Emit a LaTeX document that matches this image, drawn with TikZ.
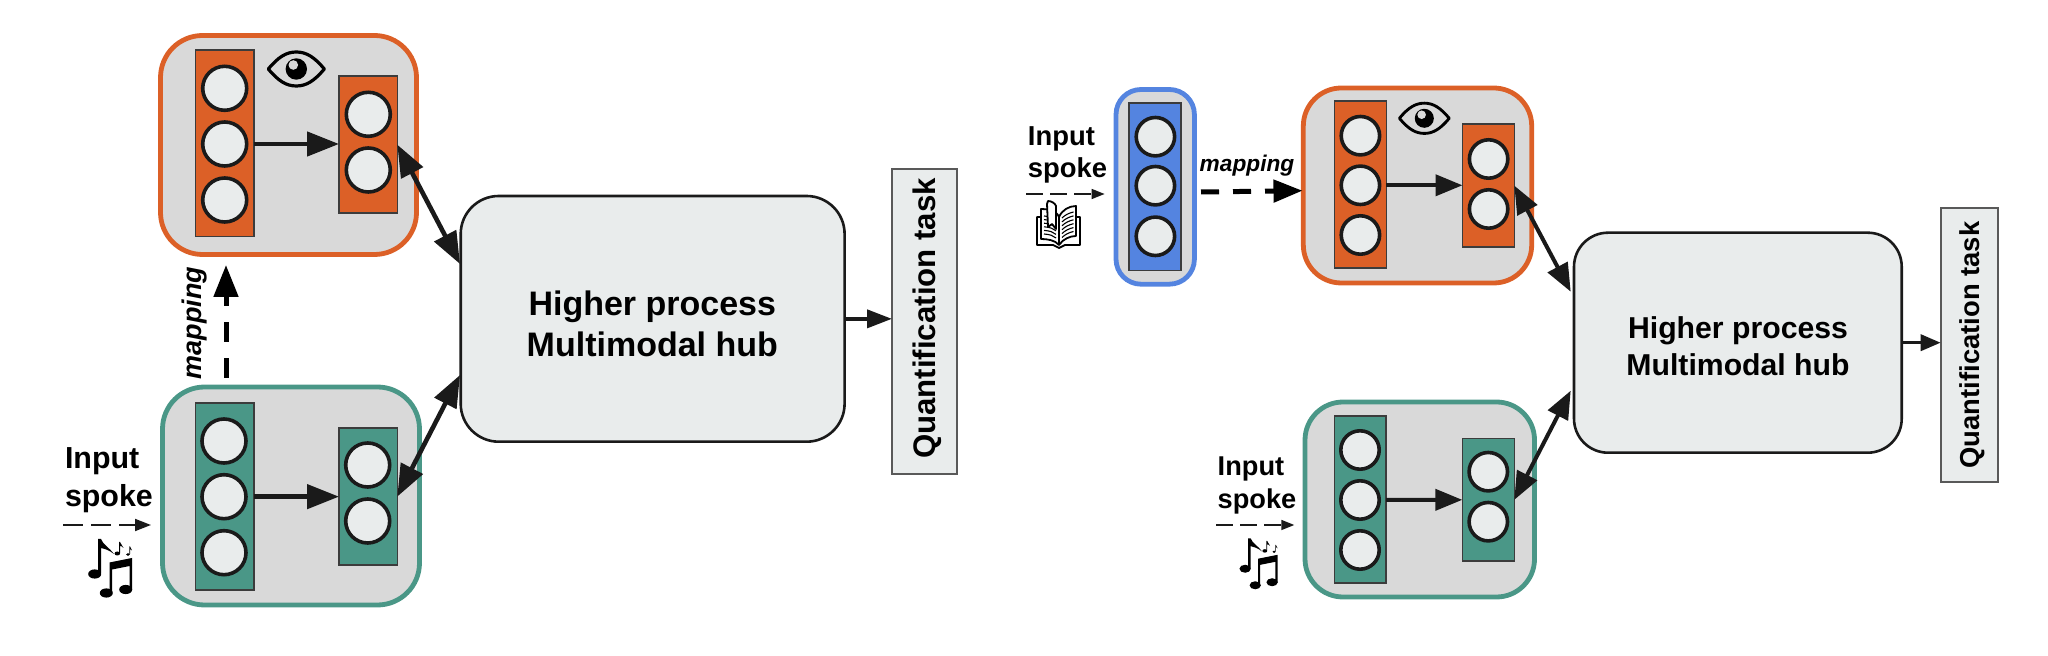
\documentclass[tikz,border=0pt]{standalone}
\usepackage{fontspec}
\setmainfont{Liberation Sans}
\usetikzlibrary{arrows.meta}
\definecolor{cOrange}{HTML}{DC6027}
\definecolor{cTeal}{HTML}{4A9787}
\definecolor{cBlue}{HTML}{5484E0}
\definecolor{cGray}{HTML}{D9D9D9}
\definecolor{cLight}{HTML}{E9ECEC}
\definecolor{cInk}{HTML}{1A1A1A}
\tikzset{
  every node/.style={inner sep=0pt,outer sep=0pt},
  modbox/.style={draw,fill=cGray,line width=2.4pt,rounded corners=21pt},
  layerbox/.style={draw=cInk!85,fill=#1,line width=0.8pt},
  neuron/.style={circle,draw=cInk,fill=cLight,line width=1.8pt},
  hubbox/.style={draw=cInk,fill=cLight,line width=1.3pt,rounded corners=19pt},
  taskbox/.style={draw=black!65,fill=cLight,line width=0.9pt},
  conn/.style={draw=cInk,line width=2.3pt,-{Triangle[length=16pt,width=12pt]}},
  conns/.style={draw=cInk,line width=2pt,-{Triangle[length=13.5pt,width=10.5pt]}},
  bidir/.style={draw=cInk,line width=2.3pt,{Triangle[length=16pt,width=12pt]}-{Triangle[length=16pt,width=12pt]}},
  bidirs/.style={draw=cInk,line width=2pt,{Triangle[length=14pt,width=11pt]}-{Triangle[length=14pt,width=11pt]}},
  mapline/.style={draw=black,line width=2.5pt,dash pattern=on 10pt off 8pt},
  inputline/.style={draw=cInk,line width=0.9pt,dash pattern=on 10pt off 4pt,-{Triangle[length=8pt,width=6pt]}},
  inputlines/.style={draw=cInk,line width=0.8pt,dash pattern=on 8.5pt off 3.5pt,-{Triangle[length=6.5pt,width=5pt]}},
  lbl/.style={align=center,font=\fontsize{#1}{#1}\bfseries\selectfont},
}
\newcommand\pxnode[6][]{%
  \pgfmathsetmacro\pxcx{(#3+#5)/2}\pgfmathsetmacro\pxcy{(#4+#6)/2}%
  \pgfmathsetmacro\pxw{(#5-#3)*0.5}\pgfmathsetmacro\pxh{(#6-#4)*0.5}%
  \node[#1,minimum width=\pxw pt,minimum height=\pxh pt] (#2) at (\pxcx,\pxcy) {};}
% x, y (centre), scale
\newcommand\eyeicon[3]{\begin{scope}[shift={(#1,#2)},scale=#3]
  \draw[black,line width=#3*1.6pt,line join=round] (-28,0) .. controls (-18,-12) and (-10,-17) .. (0,-17) .. controls (10,-17) and (18,-12) .. (28,0) .. controls (18,12) and (10,17) .. (0,17) .. controls (-10,17) and (-18,12) .. (-28,0) -- cycle;
  \fill[black] (0,0) circle[radius=10.7];
  \fill[cGray] (-3,-4) circle[radius=4.8];
\end{scope}}
% x, y (top left), scale
\newcommand\musicicon[3]{\begin{scope}[shift={(#1,#2)},scale=#3]
  \fill[black] (6.7,35) ellipse[x radius=6.5,y radius=4.6];
  \fill[black] (18.3,54) ellipse[x radius=6.5,y radius=4.6];
  \fill[black] (37.7,50.5) ellipse[x radius=6.5,y radius=4.6];
  \fill[black] (10.2,34) -- (10.2,0) -- (13,0) .. controls (15,6) and (22,9) .. (26,15) .. controls (21,11) and (17,10) .. (13,9) -- (13,34) -- cycle;
  \fill[black] (21.5,53) -- (21.5,23.5) -- (44,19) -- (44,51) -- (41.5,51) -- (41.5,27) -- (24,30.5) -- (24,53) -- cycle;
  \fill[black] (29.3,14.5) ellipse[x radius=2.8,y radius=2];
  \fill[black] (31.2,14) -- (31.2,3) -- (32,3) .. controls (32.5,6) and (35,6) .. (35.5,9) .. controls (34.5,7.5) and (33,7) .. (32,7) -- (32,14) -- cycle;
  \fill[black] (40,15.5) ellipse[x radius=1.9,y radius=1.4];
  \fill[black] (41.3,15) -- (41.3,7.5) -- (42,7.5) .. controls (42.3,9) and (43.7,9.5) .. (44,11.5) .. controls (43.5,10.5) and (42.7,10) .. (42,10) -- (42,15) -- cycle;
\end{scope}}
% x, y (top left)
\newcommand\bookicon[2]{\begin{scope}[shift={(#1,#2)},line join=round]
  \draw[black,line width=0.9pt,fill=white] (5,19) -- (5,47) -- (21,47) -- (27,50) -- (33,47) -- (48,47) -- (48,19) -- cycle;
  \draw[black,line width=0.9pt,fill=white] (27,47) .. controls (23,42) and (15,41) .. (9,41) -- (9,11) .. controls (16,11) and (24,12) .. (27,19) .. controls (30,12) and (37,8) .. (44,8) -- (44,38) .. controls (38,38) and (31,41) .. (27,47) -- cycle;
  \draw[black,line width=0.9pt] (27,19) -- (27,47);
  \foreach \k in {0,...,5}{
    \draw[black,line width=0.55pt] (30,{20+\k*3.9}) .. controls (33,{17+\k*3.9}) and (37,{15+\k*3.9}) .. (41.5,{14+\k*3.9});
    \draw[black,line width=0.55pt] (24,{22+\k*3.6}) .. controls (21,{19.5+\k*3.6}) and (18,{18.5+\k*3.6}) .. (12,{18+\k*3.6});
  }
  \draw[black,line width=0.9pt,fill=white] (15,6) -- (16,3) .. controls (19,3) and (23,5) .. (24,8) -- (24,31) -- (20,26) -- (16,29) -- cycle;
\end{scope}}
\newcommand\neuronnode[4]{\node[neuron,minimum size=#4pt] (#1) at (#2,#3) {};}
\begin{document}
\begin{tikzpicture}[x=0.5pt,y=-0.5pt]
\useasboundingbox (0,0) rectangle (2048,656);
%% ---------- LEFT PANEL ----------
\pxnode[modbox,draw=cOrange]{vis}{160.5}{35.5}{416.5}{254.5}
\pxnode[modbox,draw=cTeal]{aud}{162.5}{387}{419.5}{605}
\pxnode[layerbox=cOrange]{visL}{195.5}{50}{253.7}{236.7}
\pxnode[layerbox=cOrange]{visR}{339}{76}{397.3}{213.3}
\neuronnode{visLa}{224.7}{88.3}{22}
\neuronnode{visLb}{224.7}{144}{22}
\neuronnode{visLc}{224.7}{200}{22}
\neuronnode{visRa}{368.3}{114.3}{22}
\neuronnode{visRb}{368.3}{170}{22}
\eyeicon{296.3}{69}{1}
\pxnode[layerbox=cTeal]{audL}{195.5}{403.3}{253.7}{590}
\pxnode[layerbox=cTeal]{audR}{339}{428}{397.3}{565.3}
\neuronnode{audLa}{224}{441}{22}
\neuronnode{audLb}{224}{496.7}{22}
\neuronnode{audLc}{224}{552.7}{22}
\neuronnode{audRa}{367.7}{465}{22}
\neuronnode{audRb}{367.7}{521}{22}
\pxnode[hubbox]{hub}{460.7}{196}{844.6}{441.7}
\pxnode[taskbox]{task}{892}{168.7}{957}{473.7}
\node[align=center,anchor=base,font=\fontsize{17pt}{20.5pt}\bfseries\selectfont] (hubtxt) at (652.3,356.5) {Higher process\\Multimodal hub};
\node[lbl=15.6pt,rotate=90] (tasktxt) at (927,318.5) {Quantification task};
\node[anchor=center,rotate=90,font=\fontsize{13.5pt}{13.5pt}\bfseries\itshape\selectfont] (maptxt) at (195,323) {mapping};
\node[align=left,anchor=base west,font=\fontsize{15.2pt}{19pt}\bfseries\selectfont] (inA) at (65,506.7) {Input\\spoke};
\coordinate (hubIn1) at (460,264);
\coordinate (hubIn2) at (460,375);
\coordinate (mapStart) at (226,378);
\coordinate (mapEnd) at (226,265);
\coordinate (inAs) at (63,525);
\coordinate (inAe) at (151,525);
\draw[conn] (visL.east |- visLb) -- (visR.west |- visLb);
\draw[conn] (audL.east) -- (audR.west);
\draw[bidir] (visR.east) -- (hubIn1);
\draw[bidir] (audR.east) -- (hubIn2);
\draw[draw=cInk,line width=1.9pt,-{Triangle[length=12.5pt,width=9pt]}] (hub.east) -- (hub.east -| task.west);
\draw[mapline,-{Triangle[length=16pt,width=12pt]}] (mapStart) -- (mapEnd);
\draw[inputline] (inAs) -- (inAe);
\musicicon{88}{539}{1}
%% ---------- RIGHT PANEL ----------
\pxnode[modbox,draw=cBlue,rounded corners=12.5pt]{txt}{1116}{89.5}{1194.4}{284.2}
\pxnode[layerbox=cBlue]{txtL}{1128.9}{103.3}{1181}{270.7}
\neuronnode{txtLa}{1155.4}{136.7}{19.2}
\neuronnode{txtLb}{1155.4}{185.7}{19.2}
\neuronnode{txtLc}{1155.4}{236.3}{19.2}
\pxnode[modbox,draw=cOrange,rounded corners=19pt]{visB}{1303.3}{88}{1531.7}{283}
\pxnode[layerbox=cOrange]{visBL}{1334.3}{101}{1386.4}{268}
\pxnode[layerbox=cOrange]{visBR}{1462.5}{124.3}{1514.3}{247}
\neuronnode{visBLa}{1360.4}{135.7}{19.2}
\neuronnode{visBLb}{1360.4}{185.3}{19.2}
\neuronnode{visBLc}{1360.4}{235}{19.2}
\neuronnode{visBRa}{1488.6}{159}{19.2}
\neuronnode{visBRb}{1488.6}{209}{19.2}
\eyeicon{1424.3}{118.3}{0.89}
\pxnode[modbox,draw=cTeal,rounded corners=19pt]{audB}{1305}{402}{1534.5}{597}
\pxnode[layerbox=cTeal]{audBL}{1334.3}{416.3}{1386}{583.3}
\pxnode[layerbox=cTeal]{audBR}{1462.3}{438.7}{1514.3}{561}
\neuronnode{audBLa}{1360}{450}{19.2}
\neuronnode{audBLb}{1360}{500}{19.2}
\neuronnode{audBLc}{1360}{550}{19.2}
\neuronnode{audBRa}{1488.3}{471.7}{19.2}
\neuronnode{audBRb}{1488.3}{521.7}{19.2}
\pxnode[hubbox,rounded corners=17pt]{hubB}{1574}{232.7}{1901.7}{452.7}
\pxnode[taskbox]{taskB}{1940.7}{208.3}{1998.3}{481.7}
\node[align=center,anchor=base,font=\fontsize{15.1pt}{18.5pt}\bfseries\selectfont] (hubBtxt) at (1738,375.3) {Higher process\\Multimodal hub};
\node[lbl=13.7pt,rotate=90] (taskBtxt) at (1972,345) {Quantification task};
\node[anchor=base,font=\fontsize{11.35pt}{11.35pt}\bfseries\itshape\selectfont] (mapBtxt) at (1247,171.7) {mapping};
\node[align=left,anchor=base west,font=\fontsize{13.7pt}{16pt}\bfseries\selectfont] (inB) at (1027.9,177.3) {Input\\spoke};
\node[align=left,anchor=base west,font=\fontsize{13.6pt}{16.5pt}\bfseries\selectfont] (inC) at (1217.7,509) {Input\\spoke};
\coordinate (hubBIn1) at (1570.7,291.7);
\coordinate (hubBIn2) at (1570.7,390.7);
\coordinate (mapBs) at (1201,192);
\coordinate (mapBe) at (1302.5,190.7);
\coordinate (inBs) at (1026,194);
\coordinate (inBe) at (1104.6,194);
\coordinate (inCs) at (1216,525);
\coordinate (inCe) at (1294.3,525);
\draw[conns] (visBL.east |- visBLb) -- (visBR.west |- visBLb);
\draw[conns] (audBL.east) -- (audBR.west);
\draw[bidirs] (visBR.east) -- (hubBIn1);
\draw[bidirs] (audBR.east) -- (hubBIn2);
\draw[draw=cInk,line width=1.8pt,-{Triangle[length=10pt,width=8pt]}] (hubB.east) -- (hubB.east -| taskB.west);
\draw[draw=black,line width=2.5pt,dash pattern=on 9pt off 7pt,-{Triangle[length=14.5pt,width=11pt]}] (mapBs) -- (mapBe);
\draw[inputlines] (inBs) -- (inBe);
\draw[inputlines] (inCs) -- (inCe);
\bookicon{1032}{198}
\musicicon{1239.3}{538.3}{0.87}
\end{tikzpicture}
\end{document}
